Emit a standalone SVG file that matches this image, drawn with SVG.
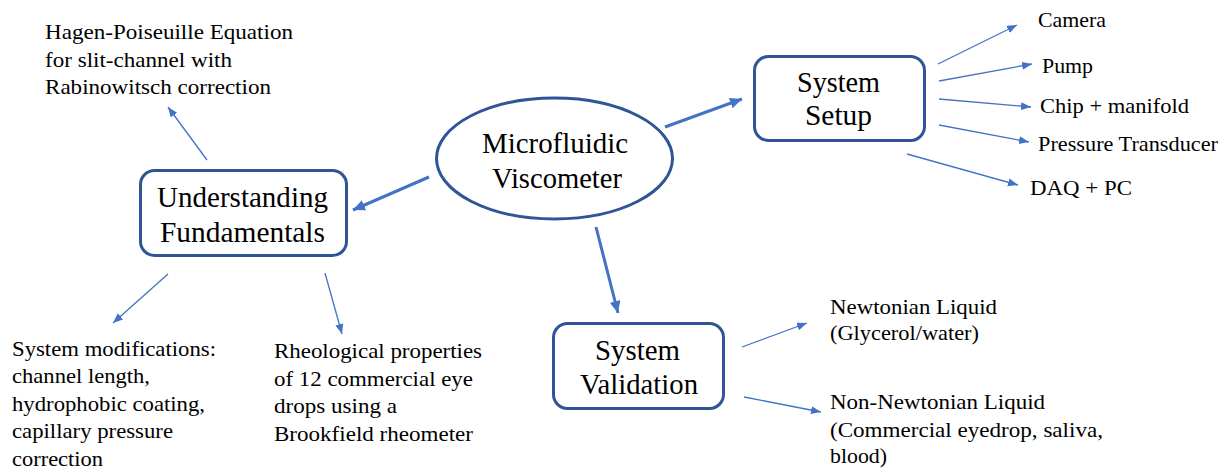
<svg xmlns="http://www.w3.org/2000/svg" width="1224" height="470" viewBox="0 0 1224 470">
<style>
text{font-family:"Liberation Serif",Tinos,"Times New Roman",Times,"Nimbus Roman","Noto Serif","DejaVu Serif",FreeSerif,serif;fill:#000}
.node{fill:#fff;stroke:#2F5597;stroke-width:3}
.big{font-size:28.5px;text-anchor:middle}
.sm{font-size:22px}
.thick{stroke:#4472C4;stroke-width:3;fill:none}
.thin{stroke:#4472C4;stroke-width:1.3;fill:none}
</style>
<defs>
<marker id="ahT" markerUnits="userSpaceOnUse" markerWidth="13" markerHeight="11" refX="12" refY="5.5" orient="auto">
<path d="M0,0 L12,5.5 L0,11 Z" fill="#4472C4"/>
</marker>
<marker id="ahS" markerUnits="userSpaceOnUse" markerWidth="11" markerHeight="9" refX="10" refY="4" orient="auto">
<path d="M0,0 L10,4 L0,8 Z" fill="#4472C4"/>
</marker>
</defs>
<rect width="1224" height="470" fill="#fff"/>

<g id="connectors">
<line class="thick" x1="665" y1="127" x2="742" y2="99" marker-end="url(#ahT)"/>
<line class="thick" x1="429" y1="177" x2="353" y2="210" marker-end="url(#ahT)"/>
<line class="thick" x1="596" y1="227" x2="618" y2="313" marker-end="url(#ahT)"/>
<line class="thin" x1="938" y1="64" x2="1017" y2="25" marker-end="url(#ahS)"/>
<line class="thin" x1="939" y1="81" x2="1032" y2="64" marker-end="url(#ahS)"/>
<line class="thin" x1="939" y1="99" x2="1031" y2="107" marker-end="url(#ahS)"/>
<line class="thin" x1="939" y1="125" x2="1029" y2="142" marker-end="url(#ahS)"/>
<line class="thin" x1="907" y1="154" x2="1018" y2="185" marker-end="url(#ahS)"/>
<line class="thin" x1="207" y1="160" x2="168" y2="107" marker-end="url(#ahS)"/>
<line class="thin" x1="168" y1="274" x2="113" y2="323" marker-end="url(#ahS)"/>
<line class="thin" x1="325" y1="273" x2="342" y2="334" marker-end="url(#ahS)"/>
<line class="thin" x1="742" y1="347" x2="807" y2="323" marker-end="url(#ahS)"/>
<line class="thin" x1="744" y1="397" x2="821" y2="412" marker-end="url(#ahS)"/>
</g>

<g id="microfluidic-viscometer">
<ellipse class="node" cx="554.5" cy="158.5" rx="118" ry="60.5"/>
<text class="big" x="555" y="153" textLength="146" lengthAdjust="spacingAndGlyphs">Microfluidic</text>
<text class="big" x="557" y="188" textLength="130" lengthAdjust="spacingAndGlyphs">Viscometer</text>
</g>

<g id="system-setup">
<rect class="node" x="754.5" y="56.5" width="170" height="84" rx="14"/>
<text class="big" x="838.5" y="92" textLength="83" lengthAdjust="spacingAndGlyphs">System</text>
<text class="big" x="838.5" y="125" textLength="67" lengthAdjust="spacingAndGlyphs">Setup</text>
</g>

<g id="understanding-fundamentals">
<rect class="node" x="140.5" y="170.5" width="206" height="85" rx="14"/>
<text class="big" x="242.5" y="207" textLength="171" lengthAdjust="spacingAndGlyphs">Understanding</text>
<text class="big" x="242.5" y="242" textLength="165" lengthAdjust="spacingAndGlyphs">Fundamentals</text>
</g>

<g id="system-validation">
<rect class="node" x="553.5" y="323.5" width="170" height="85" rx="14"/>
<text class="big" x="637.5" y="360" textLength="85" lengthAdjust="spacingAndGlyphs">System</text>
<text class="big" x="639" y="394" textLength="118" lengthAdjust="spacingAndGlyphs">Validation</text>
</g>

<g id="hagen-poiseuille">
<text class="sm" x="45" y="39" textLength="248" lengthAdjust="spacingAndGlyphs">Hagen-Poiseuille Equation</text>
<text class="sm" x="45" y="66.5" textLength="187" lengthAdjust="spacingAndGlyphs">for slit-channel with</text>
<text class="sm" x="45" y="94" textLength="226" lengthAdjust="spacingAndGlyphs">Rabinowitsch correction</text>
</g>

<g id="camera"><text class="sm" x="1038" y="27" textLength="68" lengthAdjust="spacingAndGlyphs">Camera</text></g>
<g id="pump"><text class="sm" x="1042" y="73" textLength="51" lengthAdjust="spacingAndGlyphs">Pump</text></g>
<g id="chip-manifold"><text class="sm" x="1040" y="113" textLength="149" lengthAdjust="spacingAndGlyphs">Chip + manifold</text></g>
<g id="pressure-transducer"><text class="sm" x="1038" y="151" textLength="180" lengthAdjust="spacingAndGlyphs">Pressure Transducer</text></g>
<g id="daq-pc"><text class="sm" x="1030" y="195" textLength="102" lengthAdjust="spacingAndGlyphs">DAQ + PC</text></g>

<g id="system-modifications">
<text class="sm" x="12" y="355.5" textLength="204" lengthAdjust="spacingAndGlyphs">System modifications:</text>
<text class="sm" x="12" y="383" textLength="138" lengthAdjust="spacingAndGlyphs">channel length,</text>
<text class="sm" x="12" y="410.5" textLength="193" lengthAdjust="spacingAndGlyphs">hydrophobic coating,</text>
<text class="sm" x="12" y="438" textLength="161" lengthAdjust="spacingAndGlyphs">capillary pressure</text>
<text class="sm" x="12" y="465.5" textLength="91" lengthAdjust="spacingAndGlyphs">correction</text>
</g>

<g id="rheological-properties">
<text class="sm" x="274" y="358" textLength="208" lengthAdjust="spacingAndGlyphs">Rheological properties</text>
<text class="sm" x="274" y="385.5" textLength="199" lengthAdjust="spacingAndGlyphs">of 12 commercial eye</text>
<text class="sm" x="274" y="413" textLength="123" lengthAdjust="spacingAndGlyphs">drops using a</text>
<text class="sm" x="274" y="440.5" textLength="199" lengthAdjust="spacingAndGlyphs">Brookfield rheometer</text>
</g>

<g id="newtonian-liquid">
<text class="sm" x="830" y="314" textLength="167" lengthAdjust="spacingAndGlyphs">Newtonian Liquid</text>
<text class="sm" x="830" y="340" textLength="149" lengthAdjust="spacingAndGlyphs">(Glycerol/water)</text>
</g>

<g id="non-newtonian-liquid">
<text class="sm" x="830" y="409" textLength="215" lengthAdjust="spacingAndGlyphs">Non-Newtonian Liquid</text>
<text class="sm" x="830" y="436.5" textLength="273" lengthAdjust="spacingAndGlyphs">(Commercial eyedrop, saliva,</text>
<text class="sm" x="830" y="463" textLength="57" lengthAdjust="spacingAndGlyphs">blood)</text>
</g>
</svg>
